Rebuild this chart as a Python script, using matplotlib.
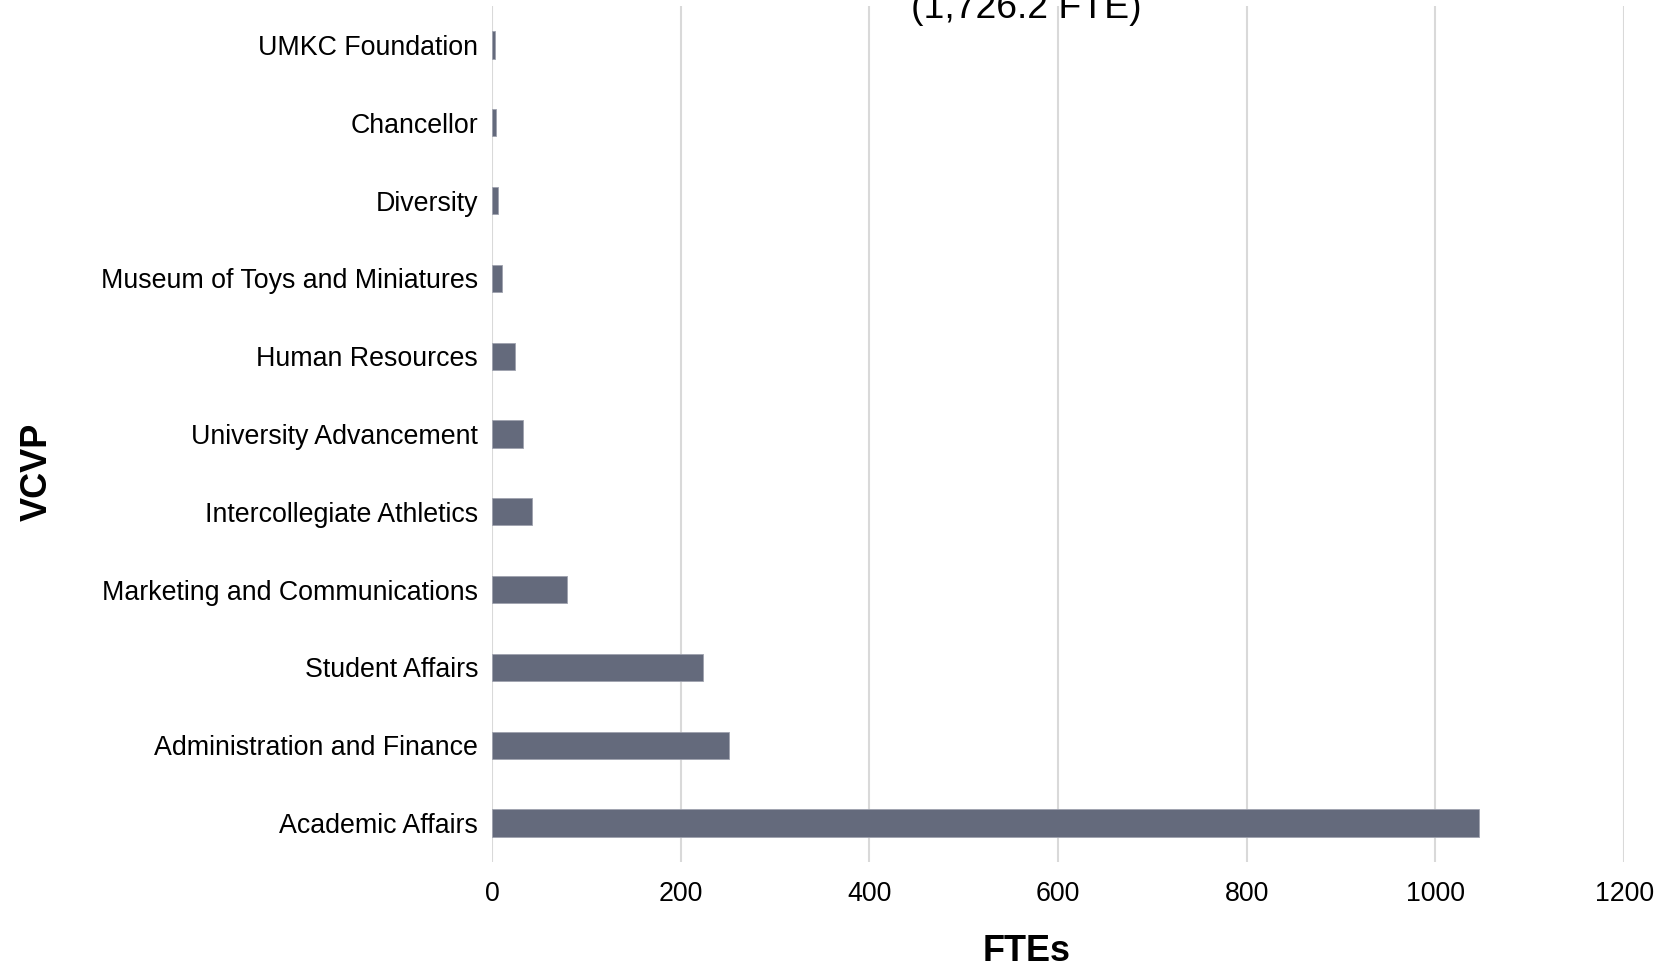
import matplotlib.pyplot as plt

plt.rcParams['font.family'] = ['Liberation Sans', 'DejaVu Sans']

units = ['Academic Affairs', 'Administration and Finance', 'Student Affairs',
         'Marketing and Communications', 'Intercollegiate Athletics',
         'University Advancement', 'Human Resources',
         'Museum of Toys and Miniatures', 'Diversity', 'Chancellor',
         'UMKC Foundation']
ftes = [1046.0, 251.0, 224.0, 79.2, 42.5, 33.3, 24.2, 10.2, 6.4, 4.2, 2.8]
xticks = [0, 200, 400, 600, 800, 1000, 1200]

fig = plt.figure(figsize=(16.59, 9.64), dpi=100)
ax = fig.add_axes([0.2966, 0.1058, 0.6824, 0.888])

ax.barh(range(len(units)), ftes, height=0.35, color='#646a7c',
        edgecolor='#9ea2ae', linewidth=0.6, zorder=3)

ax.set_xlim(0, 1200)
ax.set_ylim(-0.5, len(units) - 0.5)
ax.set_xticks(xticks)
ax.set_yticks(range(len(units)))
ax.set_yticklabels(units)
ax.tick_params(axis='both', length=0, labelsize=19.3, colors='black')
ax.tick_params(axis='x', pad=14)
ax.tick_params(axis='y', pad=10)

ax.grid(axis='x', color='#d9d9d9', linewidth=1.5, zorder=0)
ax.set_axisbelow(True)
for s in ax.spines.values():
    s.set_visible(False)

ax.set_xlabel('FTEs', fontsize=26, fontweight='bold')
ax.xaxis.set_label_coords(0.472, -0.0837)
ax.set_ylabel('VCVP', fontsize=26, fontweight='bold')
ax.yaxis.set_label_coords(-0.3865, 0.456)

fig.text(0.2966 + 0.6824 * 0.472, 0.9726, '(1,726.2 FTE)', fontsize=26.9,
         ha='center', va='bottom')

fig.savefig('out.png', dpi=100)
